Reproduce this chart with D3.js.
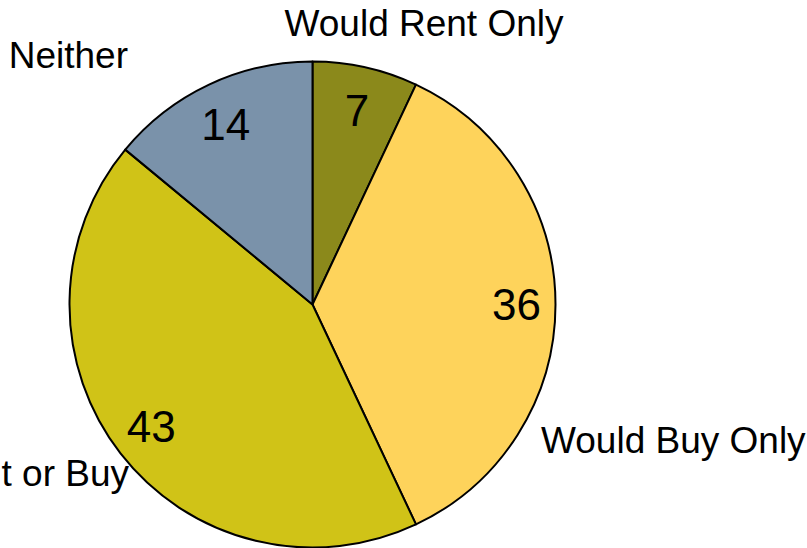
<!DOCTYPE html>
<html>
<head>
<meta charset="utf-8">
<script src="https://cdn.jsdelivr.net/npm/d3@7"></script>
<style>
  html, body { margin: 0; padding: 0; background: #ffffff; overflow: hidden; }
  svg { display: block; }
  text { font-family: "Liberation Sans", Arial, sans-serif; fill: #000; }
</style>
</head>
<body>
<svg id="chart" width="807" height="548"></svg>
<script>
// Survey answers, clockwise from 12 o'clock
const categories = ["Would Rent Only", "Would Buy Only", "Would Rent or Buy", "Neither"];
const values = [7, 36, 43, 14];
const colors = ["#8b891b", "#fed35b", "#d0c317", "#7a92aa"];

// Outer label placement: [x, baseline y, anchor]
const labelPos = [
  [424, 36, "middle"],
  [541, 453, "start"],
  [129, 486, "end"],
  [128, 68, "end"]
];

const svg = d3.select("#chart");
const cx = 312.5, cy = 304.5, r = 243;

const pie = d3.pie().sort(null).value(d => d)
  .startAngle(0).endAngle(2 * Math.PI);
const arcs = pie(values);

const arc = d3.arc().innerRadius(0).outerRadius(r);

// value labels sit on a slightly flattened ring inside the slices
const ringX = 204, ringY = 199;
function valuePos(d) {
  const a = (d.startAngle + d.endAngle) / 2;
  return [ringX * Math.sin(a), -ringY * Math.cos(a)];
}

const g = svg.append("g").attr("transform", `translate(${cx},${cy})`);

g.selectAll("path.slice")
  .data(arcs)
  .join("path")
  .attr("class", "slice")
  .attr("d", arc)
  .attr("fill", (d, i) => colors[i])
  .attr("stroke", "#000")
  .attr("stroke-width", 2)
  .attr("stroke-linejoin", "round");

g.selectAll("text.value")
  .data(arcs)
  .join("text")
  .attr("class", "value")
  .attr("transform", d => `translate(${valuePos(d)})`)
  .attr("text-anchor", "middle")
  .attr("dy", "0.36em")
  .style("font-size", "44px")
  .text(d => d.data);

svg.selectAll("text.cat")
  .data(categories)
  .join("text")
  .attr("class", "cat")
  .attr("x", (d, i) => labelPos[i][0])
  .attr("y", (d, i) => labelPos[i][1])
  .attr("text-anchor", (d, i) => labelPos[i][2])
  .style("font-size", "37px")
  .text(d => d);
</script>
</body>
</html>
